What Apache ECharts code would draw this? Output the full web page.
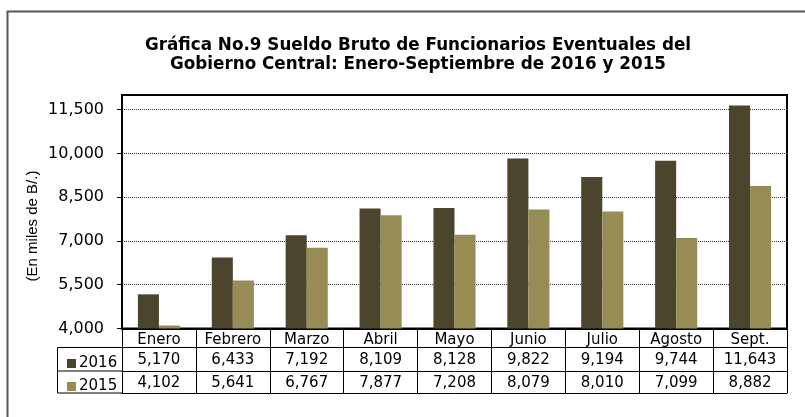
<!DOCTYPE html>
<html>
<head>
<meta charset="utf-8">
<script src="https://cdn.jsdelivr.net/npm/echarts@6/dist/echarts.min.js"></script>
<style>
html,body{margin:0;padding:0;background:#fff;}
#chart{width:805px;height:417px;}
</style>
</head>
<body>
<div id="chart"></div>
<script>
var categories = ['Enero','Febrero','Marzo','Abril','Mayo','Junio','Julio','Agosto','Sept.'];
var values2016 = [5170, 6433, 7192, 8109, 8128, 9822, 9194, 9744, 11643];
var values2015 = [4102, 5641, 6767, 7877, 7208, 8079, 8010, 7099, 8882];
var yTicks = [4000, 5500, 7000, 8500, 10000, 11500];
var titleLines = ['Gráfica No.9 Sueldo Bruto de Funcionarios Eventuales del', 'Gobierno Central: Enero-Septiembre de 2016 y 2015'];
var yName = '(En miles de B/.)';

function fmt(n){ return String(n).replace(/\B(?=(\d{3})+(?!\d))/g, ','); }

var FONT = 'DejaVu Sans';
var chart = echarts.init(document.getElementById('chart'), null, {renderer:'canvas'});

function tableAxis(offset, labelFn, margin){
  return {
    type:'category', data:categories, gridIndex:0, position:'bottom', offset:offset,
    boundaryGap:true,
    axisLine:{show:true, lineStyle:{color:'#000', width:1}},
    axisTick:{show:false},
    axisLabel:{show: !!labelFn, interval:0, margin:margin, fontFamily:FONT, fontSize:15, color:'#000',
      formatter: labelFn || function(){return '';}},
    splitLine:{show:false}
  };
}

var option = {
  animation:false,
  backgroundColor:'#fff',
  title:{
    text: titleLines.join('\n'),
    left: 413, top: 31, textAlign:'center',
    textStyle:{fontFamily:'DejaVu Sans', fontWeight:'bold', fontSize:16.8, lineHeight:19, color:'#000'}
  },
  legend:{
    orient:'vertical', left:62, top:351, itemGap:8,
    icon:'rect', itemWidth:9, itemHeight:9,
    textStyle:{fontFamily:FONT, fontSize:15, lineHeight:15, color:'#000', padding:[0,0,0,-2]},
    data:['2016','2015']
  },
  grid:{left:122, right:18, top:95, bottom:88.5, show:true, borderColor:'#000', borderWidth:2, containLabel:false},
  xAxis:[
    {
      type:'category', data:categories, position:'bottom', boundaryGap:true,
      axisLine:{show:true, lineStyle:{color:'#000', width:2}},
      axisTick:{show:true, interval:0, length:64.5, lineStyle:{color:'#000', width:1}},
      axisLabel:{interval:0, margin:4, fontFamily:FONT, fontSize:15, color:'#000'},
      splitLine:{show:false}
    },
    tableAxis(19, function(v, i){ return fmt(values2016[i]); }, 5),
    tableAxis(42.5, function(v, i){ return fmt(values2015[i]); }, 5),
    tableAxis(64.5, null, 4)
  ],
  yAxis:{
    type:'value', min:4000, max:12000,
    axisLine:{show:true, lineStyle:{color:'#000', width:2}},
    axisTick:{show:true, length:5, customValues:yTicks, lineStyle:{color:'#000', width:1}},
    axisLabel:{customValues:yTicks, margin:18, fontFamily:FONT, fontSize:16, color:'#000',
      formatter:function(v){ return fmt(v); }},
    splitLine:{show:true, lineStyle:{color:'#333', width:1, type:[1,1]}}
  },
  graphic:[
    {type:'polyline', silent:true, shape:{points:[[7.5,417],[7.5,11.5],[805,11.5]]}, style:{stroke:'#555', lineWidth:2, fill:null}},
    {type:'polyline', silent:true, shape:{points:[[122,347.5],[57.5,347.5],[57.5,393],[122,393]]}, style:{stroke:'#000', lineWidth:1, fill:null}},
    {type:'line', silent:true, shape:{x1:57.5,y1:371,x2:122,y2:371}, style:{stroke:'#000', lineWidth:1}},
    {type:'text', silent:true, x:33, y:226, rotation:Math.PI/2,
      style:{text:yName, fontFamily:'Liberation Sans', fontSize:15, fill:'#000', align:'center', verticalAlign:'middle'}}
  ],
  series:[
    {name:'2016', type:'bar', data:values2016, xAxisIndex:0, barGap:'0%', barCategoryGap:'43%',
      itemStyle:{color:'#4a452c'}},
    {name:'2015', type:'bar', data:values2015, xAxisIndex:0, barGap:'0%', barCategoryGap:'43%',
      itemStyle:{color:'#978c56'}}
  ]
};
chart.setOption(option);
</script>
</body>
</html>
